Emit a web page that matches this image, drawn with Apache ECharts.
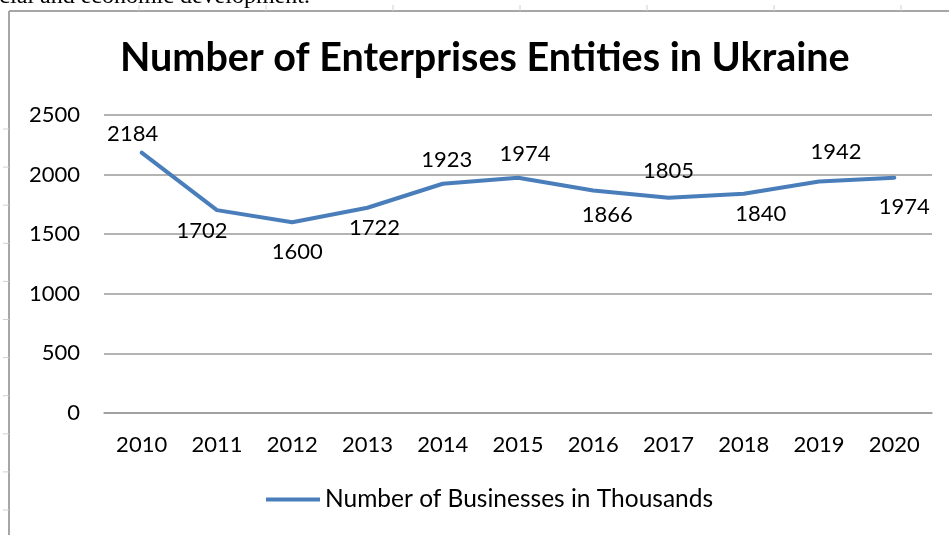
<!DOCTYPE html>
<html>
<head>
<meta charset="utf-8">
<script src="https://cdn.jsdelivr.net/npm/echarts@6/dist/echarts.min.js"></script>
<style>
html, body { margin: 0; padding: 0; background: #fff; }
#main { width: 949px; height: 535px; }
</style>
</head>
<body>
<div id="main"></div>
<script>
var years = ['2010', '2011', '2012', '2013', '2014', '2015', '2016', '2017', '2018', '2019', '2020'];
var businesses = [2184, 1702, 1600, 1722, 1923, 1974, 1866, 1805, 1840, 1942, 1974];

// where each value label sits (Excel put them above or below the line)
var labelPlace = [
    ['top', [-9, 2]], ['bottom', [-15, 0]], ['bottom', [5, 9]], ['bottom', [7, 0]],
    ['top', [4, -3]], ['top', [7, -3]], ['bottom', [14, 4]], ['top', [0, -6]],
    ['bottom', [17, 0]], ['top', [17, -9]], ['bottom', [10, 9]]
];

var myChart = echarts.init(document.getElementById('main'));
var font = 'Lato';

option = {
    backgroundColor: '#fff',
    animation: false,
    textStyle: { fontFamily: font },
    title: {
        text: 'Number of Enterprises Entities in Ukraine',
        left: 115,
        top: 33,
        textStyle: { fontFamily: font, fontSize: 39.5, fontWeight: 'bold', color: '#000' }
    },
    legend: {
        bottom: 18,
        left: 261,
        itemWidth: 54,
        itemHeight: 4,
        icon: 'rect',
        textStyle: { fontFamily: font, fontSize: 24.5, color: '#000' }
    },
    grid: { left: 104, right: 17, top: 115, bottom: 122 },
    xAxis: {
        type: 'category',
        data: years,
        boundaryGap: true,
        axisLine: { lineStyle: { color: '#9a9a9a', width: 1.5 } },
        axisTick: { show: false },
        axisLabel: { color: '#000', fontSize: 22, margin: 21 }
    },
    yAxis: {
        type: 'value',
        min: 0,
        max: 2500,
        interval: 500,
        axisLine: { show: false },
        axisTick: { show: false },
        axisLabel: { color: '#000', fontSize: 22, margin: 24, formatter: function (v) { return String(v); } },
        splitLine: { lineStyle: { color: '#9a9a9a', width: 1.5 } }
    },
    series: [{
        name: 'Number of Businesses in Thousands',
        type: 'line',
        showSymbol: true,
        symbol: 'circle',
        symbolSize: 1,
        lineStyle: { color: '#4a7ebb', width: 4, cap: 'round', join: 'round' },
        itemStyle: { color: '#4a7ebb' },
        data: businesses.map(function (v, i) {
            return {
                value: v,
                label: {
                    show: true,
                    position: labelPlace[i][0],
                    offset: labelPlace[i][1],
                    distance: 9,
                    color: '#000',
                    fontSize: 22,
                    fontFamily: font
                }
            };
        })
    }],
    graphic: [
        // page text cut off above the chart
        { type: 'text', x: -22, y: -15,
          style: { text: 'social and economic development.', font: '24px "Liberation Serif"', fill: '#000' } },
        // chart frame
        { type: 'line', shape: { x1: 9, y1: 11, x2: 949, y2: 11 }, style: { stroke: '#a6a6a6', lineWidth: 2 } },
        { type: 'line', shape: { x1: 9, y1: 11, x2: 9, y2: 535 }, style: { stroke: '#a6a6a6', lineWidth: 2 } },
        { type: 'group', children: [0, 1, 2, 3, 4, 5, 6, 7, 8, 9, 10].map(function (k) {
            var y = 129 + k * 38.1;
            return { type: 'line', shape: { x1: 3, y1: y, x2: 9, y2: y }, style: { stroke: '#d0d0d0', lineWidth: 1 } };
        }) },
        { type: 'group', children: [0, 1, 2, 3, 4, 5, 6].map(function (k) {
            var x = 139 + k * 127;
            return { type: 'line', shape: { x1: x, y1: 5, x2: x, y2: 11 }, style: { stroke: '#d0d0d0', lineWidth: 1 } };
        }) }
    ]
};
myChart.setOption(option);
</script>
</body>
</html>
